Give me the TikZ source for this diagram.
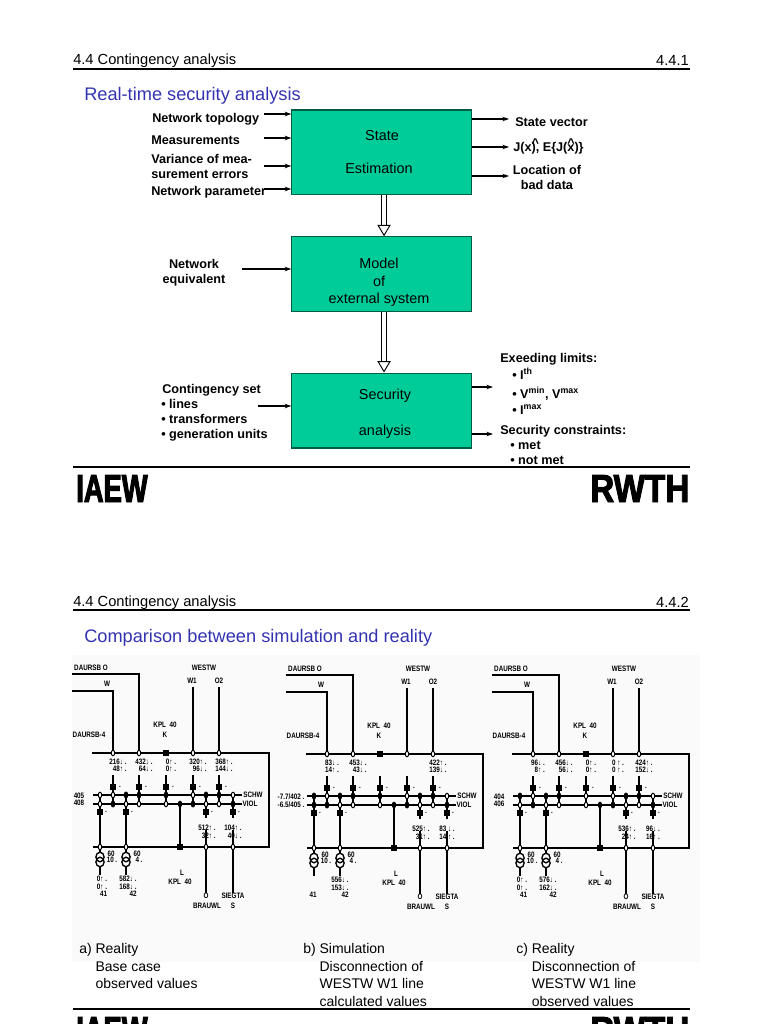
\documentclass[tikz,border=0pt]{standalone}
\usepackage{fontspec}
\setmainfont{Liberation Sans}
\newfontfamily\netfont[FakeStretch=0.8]{Liberation Sans}
\newfontfamily\iaewfont[FakeStretch=0.7,FakeBold=2.5]{Liberation Sans}
\newfontfamily\rwthfont[FakeStretch=0.85,FakeBold=2.5]{Liberation Sans}
\usetikzlibrary{arrows.meta,shapes.geometric}
\definecolor{titleblue}{RGB}{51,51,178}
\definecolor{boxgreen}{RGB}{0,204,153}
\tikzset{
  sheetrule/.style={line width=0.9pt},
  headtext/.style={inner sep=0,font=\fontsize{11}{12}\selectfont},
  titletext/.style={inner sep=0,anchor=west,text=titleblue,font=\fontsize{13.65}{16}\selectfont},
  procbox/.style={draw=black!55!boxgreen,fill=boxgreen,line width=0.8pt,inner sep=0},
  boxtext/.style={inner sep=0,font=\fontsize{10.8}{12}\selectfont},
  sidetext/.style={inner sep=0,anchor=west,align=left,font=\bfseries\fontsize{9.5}{11.2}\selectfont},
  midtext/.style={inner sep=0,align=center,font=\bfseries\fontsize{9.5}{11.4}\selectfont},
  signal/.style={line width=1.1pt,-{Stealth[length=5pt,width=3.4pt]}},
  bigflow/.style={double=white,double distance=3.4pt,line width=0.7pt,-{Triangle[open,fill=white,length=8.5pt,width=10pt,line width=0.7pt]}},
  captext/.style={inner sep=0,anchor=north west,align=left,font=\fontsize{10.5}{13.3}\selectfont},
  netlabel/.style={inner sep=0,align=right,font=\netfont\bfseries\fontsize{5.9}{5.6}\selectfont},
  busline/.style={line width=1.9pt},
  feeder/.style={line width=1pt},
  busmark/.style={ellipse,draw,fill=white,line width=0.7pt,minimum width=2.6pt,minimum height=4.2pt,inner sep=0},
  busdot/.style={busmark,fill=black},
  breaker/.style={rectangle,fill=black,minimum size=3.8pt,inner sep=0},
  logotext/.style={inner sep=0,anchor=base west,font=\bfseries\fontsize{29.3}{30}\selectfont}
}
% one measured network, #1 = panel letter, #2 = left labels, #3/#4 = filled marks on SCHW/VIOL
\newcommand{\netpanel}[4]{
  \draw[feeder] (72,691) -- (113,691) -- (113,753);
  \draw[feeder] (72,674) -- (139,674) -- (139,753);
  \foreach \x in {193,219} \draw[feeder] (\x,687) -- (\x,753);
  \foreach \x in {113,139,166,193,219} \draw[feeder] (\x,775) -- (\x,804);
  \foreach \x in {100,126} \draw[feeder] (\x,795) -- (\x,852);
  \foreach \x in {206,233} \draw[feeder] (\x,795) -- (\x,818) (\x,830) -- (\x,893);
  \draw[feeder] (180,804) -- (180,847);
  \draw[busline] (92,753) -- (269,753) -- (269,847) -- (93,847);
  \draw[busline] (93,795) -- (242,795);
  \draw[busline] (93,804) -- (242,804);
  \foreach \x in {113,139,193,219} \node[busmark] (#1t\x) at (\x,753) {};
  \node[breaker] (#1t166) at (166,753) {};
  \foreach \x in {100,126,206,233} \node[busmark] (#1b\x) at (\x,847) {};
  \node[breaker] (#1b180) at (180,847) {};
  \foreach \x in {100,113,126,139,166,193,206,219,233} {
    \node[busmark] (#1s\x) at (\x,795) {};
    \node[busmark] (#1v\x) at (\x,804) {};
  }
  \foreach \x in {#3} \node[busdot] at (\x,795) {};
  \foreach \x in {#4} \node[busdot] at (\x,804) {};
  \foreach \x in {113,139,166,193,219} {
    \node[breaker] (#1u\x) at (\x,787) {};
    \node[netlabel] (#1ud\x) at (\x+7,787) {.};
  }
  \foreach \x in {100,126,206,233} {
    \node[breaker] (#1l\x) at (\x,812) {};
    \node[netlabel] (#1ld\x) at (\x+6,812) {.};
  }
  \foreach \x in {100,126} {
    \draw[line width=1pt] (\x,857) ellipse (3.1pt and 3.6pt);
    \draw[line width=1pt] (\x,862) ellipse (3.1pt and 3.6pt);
    \draw[feeder] (\x,866.5) -- (\x,875);
    \node[netlabel] (#1sixty\x) at (\x+11,854) {60};
  }
  \node[netlabel] (#1ten) at (112,860) {10 .};
  \node[netlabel] (#1four) at (139,860) {4 .};
  \node[netlabel] (#1dao) at (91,668) {DAURSB O};
  \node[netlabel] (#1daw) at (107,684) {W};
  \node[netlabel] (#1dafour) at (89,735) {DAURSB-4};
  \node[netlabel] (#1west) at (204,668) {WESTW};
  \node[netlabel] (#1wone) at (192,681) {W1};
  \node[netlabel] (#1otwo) at (219,681) {O2};
  \node[netlabel] (#1kpl) at (165,725) {KPL\ \ 40};
  \node[netlabel] (#1k) at (165,735) {K};
  \node[netlabel] (#1schw) at (253,795) {SCHW};
  \node[netlabel] (#1viol) at (250,804) {VIOL};
  \node[netlabel] (#1ell) at (182,873) {L};
  \node[netlabel] (#1lkpl) at (180,882) {KPL\ \ 40};
  \node[netlabel] (#1oh) at (206,896) {O};
  \node[netlabel] (#1brau) at (207,906) {BRAUWL};
  \node[netlabel] (#1sieg) at (233,896) {SIEGTA};
  \node[netlabel] (#1ess) at (233,906) {S};
  \node[netlabel] (#1left) at #2;
}
\newcommand{\hatmark}{\rlap{\raisebox{3.2pt}{\textasciicircum}}}
\begin{document}
\begin{tikzpicture}[x=0.75pt,y=-0.75pt,line cap=butt,line join=miter]
  \useasboundingbox (0,0) rectangle (768,1024);
  \clip (0,0) rectangle (768,1024);
  \fill[black!2] (72,655) rectangle (700,962);
  % upper sheet
  \node[headtext,anchor=west] (headone) at (73,61) {4.4 Contingency analysis};
  \node[headtext,anchor=east] (numone) at (689,60) {4.4.1};
  \draw[sheetrule] (73,69) -- (690,69);
  \node[titletext] (titleone) at (84,96) {Real-time security analysis};

  \node[procbox,minimum width=135pt,minimum height=63.5pt] (state) at (381.9,152.3) {};
  \node[procbox,minimum width=135pt,minimum height=56.2pt] (model) at (381.9,274.2) {};
  \node[procbox,minimum width=135pt,minimum height=56.2pt] (secur) at (381.9,410.5) {};
  \node[boxtext] (statea) at (382,136) {State};
  \node[boxtext] (stateb) at (379,168) {Estimation};
  \node[boxtext] (modela) at (379,263) {Model};
  \node[boxtext] (modelb) at (379,281) {of};
  \node[boxtext] (modelc) at (379,299.5) {external system};
  \node[boxtext] (secura) at (385,396) {Security};
  \node[boxtext] (securb) at (385,431.5) {analysis};

  \draw[bigflow] ([xshift=1.6pt]state.south) -- ([xshift=1.6pt]model.north);
  \draw[bigflow] ([xshift=1.6pt]model.south) -- ([xshift=1.6pt]secur.north);

  \foreach \y/\n in {114/topo,138/meas,166/vari,189/para} {
    \coordinate (\n) at (264,\y);
    \draw[signal] (\n) -- (\n -| state.west);
  }
  \foreach \y/\n in {119/svec,147/jval,176/baddata} {
    \coordinate (\n) at (509,\y);
    \draw[signal] (\n -| state.east) -- (\n);
  }
  \coordinate (equiv) at (242,269);
  \draw[signal] (equiv) -- (equiv -| model.west);
  \coordinate (cont) at (258,406);
  \draw[signal] (cont) -- (cont -| secur.west);
  \foreach \y/\n in {387/exlim,434/seccon} {
    \coordinate (\n) at (493,\y);
    \draw[signal] (\n -| secur.east) -- (\n);
  }

  \node[sidetext] (ltopo) at (152,119) {Network topology};
  \node[sidetext] (lmeas) at (151,140) {Measurements};
  \node[sidetext] (lvari) at (151,166.5) {Variance of mea-\\surement errors};
  \node[sidetext] (lpara) at (151,192.5) {Network parameter};
  \node[sidetext] (lsvec) at (515,122) {State vector};
  \node[sidetext] (ljval) at (513,146.5) {J(x\hatmark), E\{J(\hatmark x)\}};
  \node[midtext] (lbad) at (547,177.5) {Location of\\bad data};
  \node[midtext] (lequi) at (194,272.5) {Network\\equivalent};
  \node[sidetext,font=\bfseries\fontsize{9.5}{11.25}\selectfont] (lcont) at (161,413) {\hspace*{0.8pt}Contingency set\\• lines\\• transformers\\• generation units};
  \node[sidetext] (lexee) at (500,359) {Exeeding limits:};
  \node[sidetext] (lith) at (512,374) {• I\textsuperscript{th}};
  \node[sidetext] (lvmin) at (512,394) {• V\textsuperscript{min}, V\textsuperscript{max}};
  \node[sidetext] (limax) at (512,410) {• I\textsuperscript{max}};
  \node[sidetext] (lsecu) at (500,431) {Security constraints:};
  \node[sidetext] (lmet) at (510,445) {• met};
  \node[sidetext] (lnot) at (510,460) {• not met};

  \draw[sheetrule] (73,467) -- (690,467);
  \node[logotext,font=\iaewfont\bfseries\fontsize{29.3}{30}\selectfont] (iaewone) at (76,502) {IAEW};
  \node[logotext,font=\rwthfont\bfseries\fontsize{29.3}{30}\selectfont] (rwthone) at (590,502) {RWTH};

  % lower sheet
  \node[headtext,anchor=west] (headtwo) at (73,603) {4.4 Contingency analysis};
  \node[headtext,anchor=east] (numtwo) at (689,602) {4.4.2};
  \draw[sheetrule] (73,610) -- (690,610);
  \node[titletext] (titletwo) at (84,638) {Comparison between simulation and reality};

  \begin{scope}
    \netpanel{a}{(79,799.5) {405\\408}}{126,139,166,206,219}{113,180,193,233}
    \foreach \x/\a/\b in {115/216↓ ./48↑ .,141/432↓ ./64↓ .,168/0↑ ./0↑ .,195/320↑ ./96↓ .,221/368↑ ./144↓ .,204/512↑ ./32↑ .,230/104↑ ./40↓ .}
      \node[netlabel] (av\x) at (\x+3,{\x==204||\x==230 ? 832 : 765.5}) {\a\\\b};
    \node[netlabel] (atra) at (102,886.5) {0↑ .\\0↑ .\\41};
    \node[netlabel] (atrb) at (128,886.5) {582↓ .\\168↓ .\\42};
  \end{scope}
  \begin{scope}[shift={(214,1)}]
    \netpanel{b}{(77,799.5) {-7.7/402 .\\-6.5/405 .}}{100,126,139,166,206,219}{100,113,180,193,233}
    \foreach \x/\a/\b in {115/83↓ ./14↑ .,141/453↓ ./43↓ .,221/422↑ ./139↓ .,204/525↑ ./31↑ .,230/83 ↓ ./14 ↑ .}
      \node[netlabel] (bv\x) at (\x+3,{\x==204||\x==230 ? 832 : 765.5}) {\a\\\b};
    \node[netlabel] (btra) at (99,894) {41};
    \node[netlabel] (btrb) at (126,886.5) {556↓ .\\153↓ .\\42};
  \end{scope}
  \begin{scope}[shift={(420,1)}]
    \netpanel{c}{(79,799.5) {404\\406}}{100,126,139,206,219}{113,180,193,233}
    \foreach \x/\a/\b in {115/96↓ ./8↑ .,141/456↓ ./56↓ .,168/0↑ ./0↑ .,195/0 ↑ ./0 ↑ .,221/424↑ ./152↓ .,204/536↑ ./24↑ .,230/96↓ ./16↑ .}
      \node[netlabel] (cv\x) at (\x+3,{\x==204||\x==230 ? 832 : 765.5}) {\a\\\b};
    \node[netlabel] (ctra) at (102,886.5) {0↑ .\\0↑ .\\41};
    \node[netlabel] (ctrb) at (128,886.5) {576↓ .\\162↓ .\\42};
  \end{scope}

  \node[captext] (capa) at (79,943) {a) Reality\\\phantom{a) }Base case\\\phantom{a) }observed values};
  \node[captext] (capb) at (303,943) {b) Simulation\\\phantom{b) }Disconnection of\\\phantom{b) }WESTW W1 line\\\phantom{b) }calculated values};
  \node[captext] (capc) at (516,943) {c) Reality\\\phantom{c) }Disconnection of\\\phantom{c) }WESTW W1 line\\\phantom{c) }observed values};

  \draw[sheetrule] (73,1009) -- (690,1009);
  \node[logotext,font=\iaewfont\bfseries\fontsize{29.3}{30}\selectfont] (iaewtwo) at (76,1044) {IAEW};
  \node[logotext,font=\rwthfont\bfseries\fontsize{29.3}{30}\selectfont] (rwthtwo) at (590,1044) {RWTH};
\end{tikzpicture}
\end{document}
